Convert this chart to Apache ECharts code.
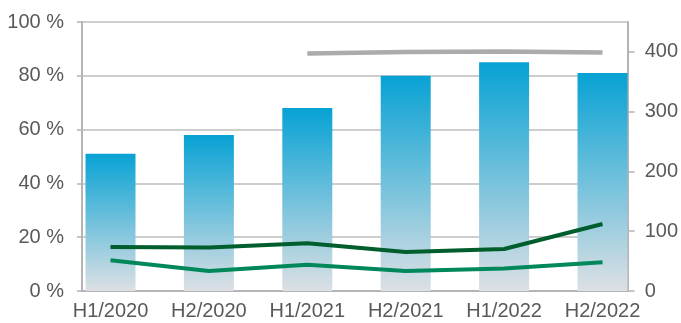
<!DOCTYPE html>
<html>
<head>
<meta charset="utf-8">
<script src="https://cdn.jsdelivr.net/npm/echarts@6/dist/echarts.min.js"></script>
<style>
  html, body { margin: 0; padding: 0; background: #fff; }
  #chart { width: 681px; height: 323px; }
</style>
</head>
<body>
<div id="chart"></div>
<script>
// periods on the x axis
const periods = ['H1/2020', 'H2/2020', 'H1/2021', 'H2/2021', 'H1/2022', 'H2/2022'];
// bar values, left axis (%)
const shareValues = [51, 58, 68, 80, 85, 81];
// line values, right axis
const darkLine = [73.6, 72.6, 79.8, 65.2, 70.2, 112];
const lightLine = [51.3, 33.4, 44.1, 33.4, 37.5, 48];
const greyLine = [null, null, 397.5, 400, 400.5, 399];
// tick labels
const leftTicks = [0, 20, 40, 60, 80, 100];
const rightTicks = [0, 100, 200, 300, 400];

const textColor = '#595959';
const axisGrey = '#b4b4b4';
const font = 'Liberation Sans, Arial, sans-serif';

const chart = echarts.init(document.getElementById('chart'));

const option = {
    animation: false,
    textStyle: { fontFamily: font },
    grid: [
        // frame with the visible axes
        { left: 82, right: 52, top: 22, bottom: 32 },
        // data area, bars centred further out
        { left: 61.3, right: 29.3, top: 22, bottom: 32 }
    ],
    xAxis: [
        {
            gridIndex: 0,
            type: 'category',
            data: periods,
            axisLine: { show: true, lineStyle: { color: axisGrey, width: 2 } },
            axisTick: { show: false },
            axisLabel: { show: false },
            splitLine: { show: false }
        },
        {
            gridIndex: 1,
            type: 'category',
            data: periods,
            axisLine: { show: false },
            axisTick: { show: false },
            axisLabel: { color: textColor, fontSize: 20, margin: 10, fontFamily: font },
            splitLine: { show: false }
        }
    ],
    yAxis: [
        {
            gridIndex: 0,
            type: 'value',
            position: 'left',
            min: leftTicks[0],
            max: leftTicks[leftTicks.length - 1],
            interval: 20,
            axisLine: { show: true, lineStyle: { color: axisGrey, width: 2 } },
            axisTick: { show: true, length: 5, lineStyle: { color: axisGrey, width: 1.5 } },
            axisLabel: {
                color: textColor, fontSize: 20, margin: 18, fontFamily: font,
                formatter: '{value} %'
            },
            splitLine: { show: true, lineStyle: { color: '#bdbdbd', width: 1.5 } }
        },
        {
            gridIndex: 0,
            type: 'value',
            position: 'right',
            min: 0,
            max: 450,
            interval: 100,
            axisLine: { show: true, lineStyle: { color: axisGrey, width: 2 } },
            axisTick: {
                show: true, length: 7, customValues: rightTicks,
                lineStyle: { color: axisGrey, width: 1.5 }
            },
            axisLabel: {
                color: textColor, fontSize: 20, margin: 17, fontFamily: font,
                customValues: rightTicks
            },
            splitLine: { show: false }
        },
        { gridIndex: 1, type: 'value', min: 0, max: 100, show: false },
        { gridIndex: 1, type: 'value', min: 0, max: 450, show: false }
    ],
    series: [
        {
            type: 'bar',
            xAxisIndex: 1,
            yAxisIndex: 2,
            barWidth: 50,
            data: shareValues,
            itemStyle: {
                color: new echarts.graphic.LinearGradient(0, 0, 0, 1, [
                    { offset: 0, color: '#07a2d4' },
                    { offset: 1, color: '#dde0e4' }
                ])
            }
        },
        {
            type: 'line',
            xAxisIndex: 1,
            yAxisIndex: 3,
            data: greyLine,
            symbol: 'none',
            lineStyle: { color: '#ababab', width: 4.5, cap: 'butt' }
        },
        {
            type: 'line',
            xAxisIndex: 1,
            yAxisIndex: 3,
            data: lightLine,
            symbol: 'none',
            lineStyle: { color: '#00885a', width: 4, cap: 'butt' }
        },
        {
            type: 'line',
            xAxisIndex: 1,
            yAxisIndex: 3,
            data: darkLine,
            symbol: 'none',
            lineStyle: { color: '#005e2c', width: 4, cap: 'butt' }
        }
    ]
};

chart.setOption(option);
</script>
</body>
</html>
